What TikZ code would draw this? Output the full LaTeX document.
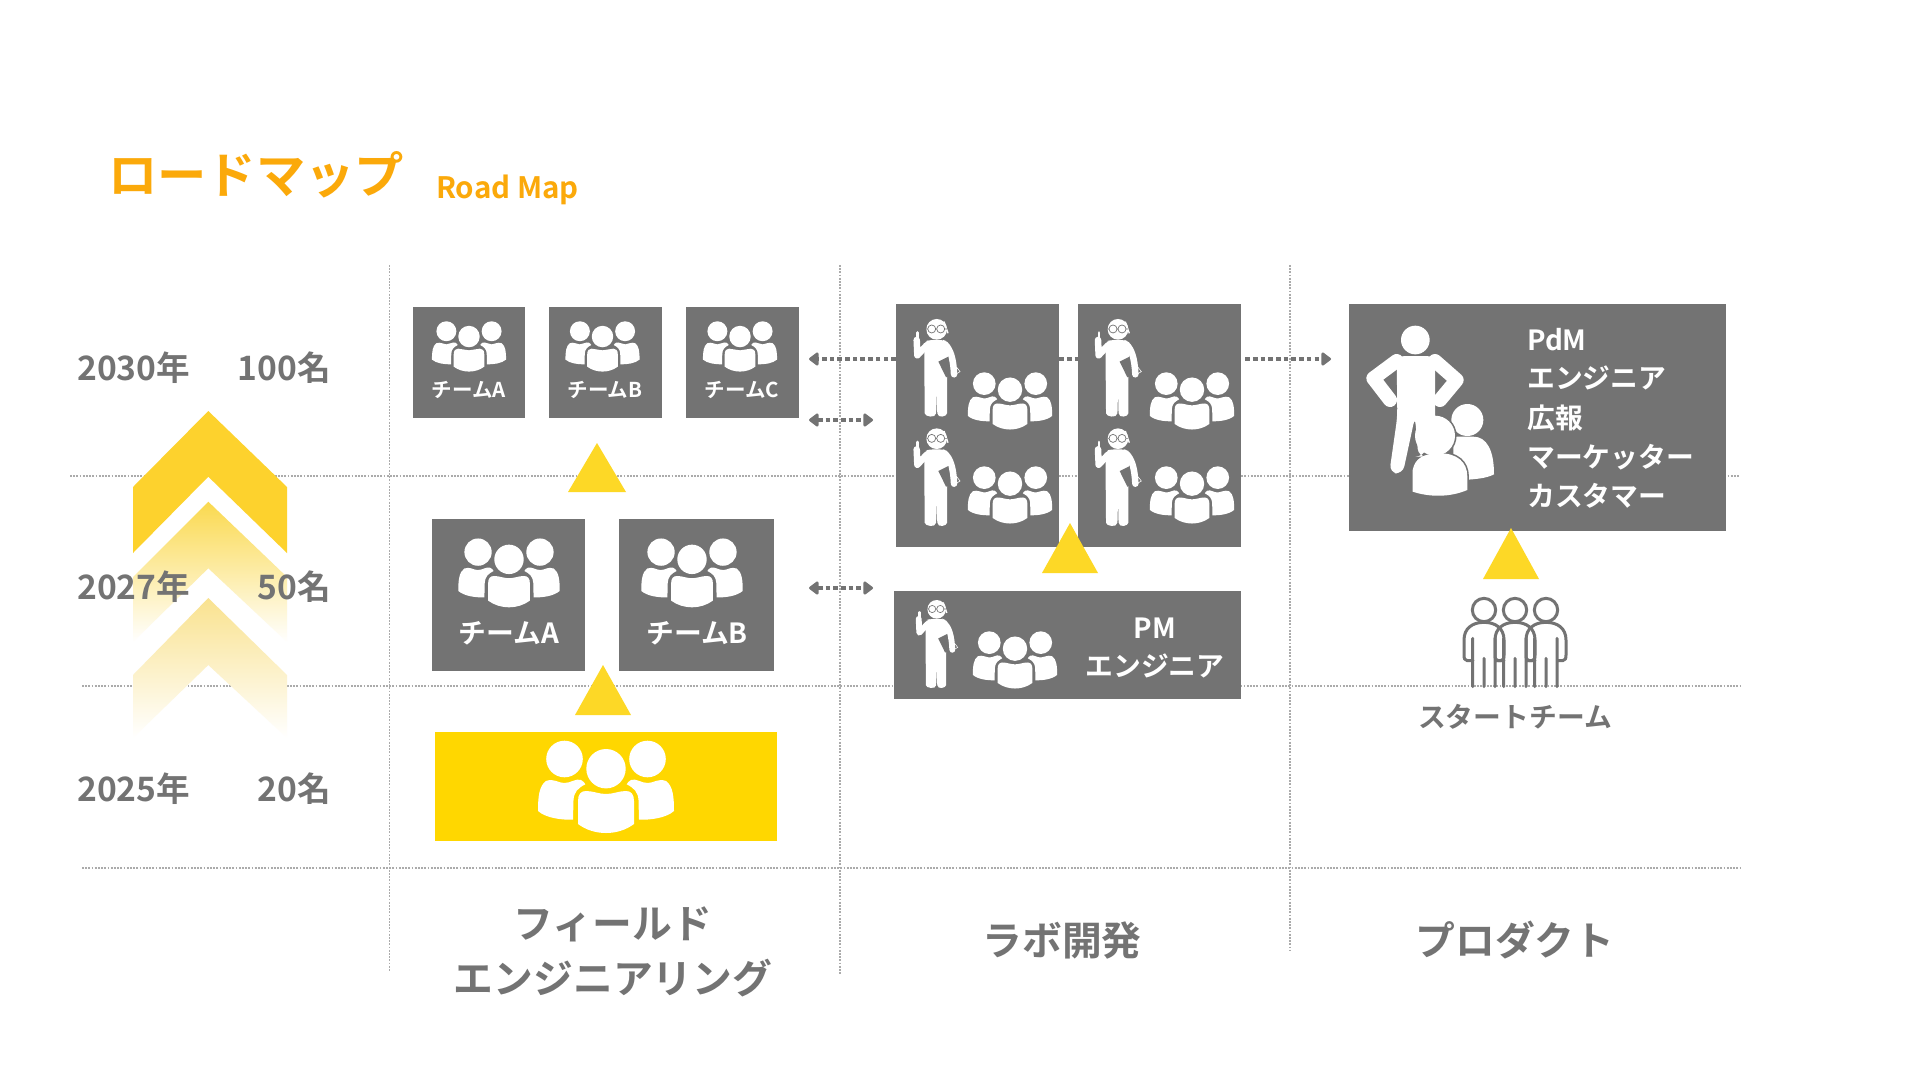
\documentclass[tikz,border=0pt]{standalone}
\usepackage{fontspec}
\setmainfont{Noto Sans CJK JP}[BoldFont={* Bold}]
\usetikzlibrary{arrows.meta}
\definecolor{gbox}{HTML}{737373}
\definecolor{gline}{HTML}{ABABAB}
\definecolor{yelbox}{HTML}{FFD700}
\definecolor{yeltri}{HTML}{FDD826}
\definecolor{chev}{HTML}{FDD22D}
\definecolor{chevb}{HTML}{FAD94F}
\definecolor{chevc}{HTML}{F9E28F}
\definecolor{orangetxt}{HTML}{FBA90A}
\tikzset{
  sz/.style={font=\fontsize{#1}{#1}\selectfont\bfseries,inner sep=0pt,text height={#1*0.88pt},text depth={#1*0.12pt}},
  wtxt/.style={sz=#1,text=white},
  gtxt/.style={sz=#1,text=gbox},
  gridline/.style={gline,line width=1.5pt,dash pattern=on 1.7pt off 1.5pt},
  boxn/.style={fill=gbox,inner sep=0pt},
  dotarrow/.style={gbox,line width=4.6pt,dash pattern=on 4.6pt off 3.1pt},
  tipL/.style={{Triangle[length=10.5pt,width=15pt,round]}-},
  tipR/.style={-{Triangle[length=10.5pt,width=15pt,round]}},
  tipB/.style={{Triangle[length=10.5pt,width=15pt,round]}-{Triangle[length=10.5pt,width=15pt,round]}},
}
\newcommand\grp[3]{%
  \begin{scope}[shift={(#1,#2)},scale=#3]
    \foreach \s in {1,-1}{
      \begin{scope}[xscale=\s]
        \fill[white] (-68,24) .. controls (-68,10) and (-67,-1) .. (-60,-6) .. controls (-52,-9) and (-48,-4) .. (-41.7,-4) .. controls (-35,-4) and (-30,-9) .. (-25,-7) .. controls (-23,-6) and (-21,-4) .. (-20.7,-2.7) .. controls (-28,1) and (-32,5) .. (-32.5,13) -- (-33,32.7) .. controls (-45,33) and (-60,31) .. (-68,24) -- cycle;
        \fill[white] (-41.5,-28) circle (18.3);
      \end{scope}
    }
    \fill[white] (0,-18.3) circle (19.7);
    \fill[white] (-28,37) -- (-28,14) .. controls (-28,7) and (-25,4) .. (-20,4) .. controls (-13,4) and (-7,7) .. (0,7) .. controls (7,7) and (13,4) .. (20,4) .. controls (25,4) and (28,7) .. (28,14) -- (28,37) .. controls (20,43) and (10,46) .. (0,46) .. controls (-10,46) and (-20,43) .. (-28,37) -- cycle;
  \end{scope}}
\newcommand\eng[3]{%
  \begin{scope}[shift={(#1,#2)},scale=#3/3]
    \fill[white,rounded corners=4pt] (-37,37) -- (-22,32) -- (20,32) -- (30,36) -- (35,60) -- (31,132) -- (31,240) .. controls (31,262) and (3,268) .. (1,240) -- (0,137) -- (-1,240) .. controls (-3,268) and (-36,262) .. (-36,240) -- (-37,130) -- cycle;
    \draw[white,line width=#3*6.5pt,line cap=round,line join=round] (25,45) .. controls (40,60) and (50,85) .. (52,135);
    \draw[white,line width=#3*6.5pt,line cap=round,line join=round] (-60,32) -- (-58,78) -- (-30,48);
    \draw[white,line width=#3*2.8pt,line cap=round] (-57,10) -- (-57,32);
    \fill[gbox] (5,97) -- (35,82) -- (38,140) -- (28,144) -- cycle;
    \draw[white,line width=#3*0.6pt] (60,114) -- (70,127) -- (58,134);
    \draw[white,line width=#3*1.3pt] (22,-23) -- (34,12);
    \fill[white] (0,0) circle (31);
    \draw[gbox,line width=#3*0.7pt] (-15,-1) circle (12) (12,-1) circle (12) (-3,-1) -- (0,-1) (-27,-1) -- (-31,-1) (24,-1) -- (31,-1);
  \end{scope}}
\newcommand\tri[4]{\fill[yeltri] (#1,#2) -- (#3,#4) -- ({2*#1-#3},#4) -- cycle;}
\begin{document}
\begin{tikzpicture}[x=1pt,y=-1pt]
\useasboundingbox (0,0) rectangle (1920,1080);
\fill[white] (0,0) rectangle (1920,1080);
% grid
\draw[gridline] (389.5,265) -- (389.5,972);
\draw[gridline] (840,265) -- (840,974);
\draw[gridline] (1290,265) -- (1290,950);
\draw[gridline] (70,476) -- (1740,476);
\draw[gridline] (82,686) -- (1740,686);
\draw[gridline] (82,868) -- (1740,868);
% chevrons
\fill[chev] (208.3,411) -- (287,487) -- (287,553) -- (208.3,476.7) -- (133,553) -- (133,487) -- cycle;
\shade[top color=chevb,bottom color=white] (208.3,501.7) -- (287,577) -- (287,642) -- (208.3,568.3) -- (133,642) -- (133,577) -- cycle;
\shade[top color=chevc,bottom color=white] (208.3,598) -- (287,675) -- (287,738) -- (208.3,665) -- (133,738) -- (133,675) -- cycle;
% title
\node[sz=49.3,text=orangetxt,anchor=west] (title) at (108,175) {ロードマップ};
\node[sz=29.5,text=orangetxt,anchor=west] (subtitle) at (436,187) {Road Map};
% years
\node[gtxt=33.6,anchor=west] (y30) at (77,368) {2030年};
\node[gtxt=33.6,anchor=east] (n30) at (331,368) {100名};
\node[gtxt=33.6,anchor=west] (y27) at (77,587) {2027年};
\node[gtxt=33.6,anchor=east] (n27) at (331,587) {50名};
\node[gtxt=33.6,anchor=west] (y25) at (77,789) {2025年};
\node[gtxt=33.6,anchor=east] (n25) at (331,789) {20名};
% boxes
\node[boxn,minimum width=112pt,minimum height=111pt] (sA) at (469,362.5) {};
\node[boxn,minimum width=113pt,minimum height=111pt] (sB) at (605.5,362.5) {};
\node[boxn,minimum width=113pt,minimum height=111pt] (sC) at (742.5,362.5) {};
\node[boxn,minimum width=153pt,minimum height=152pt] (mA) at (508.5,595) {};
\node[boxn,minimum width=155pt,minimum height=152pt] (mB) at (696.5,595) {};
\node[fill=yelbox,inner sep=0pt,minimum width=342pt,minimum height=109pt] (yel) at (606,786) {};
\node[boxn,minimum width=163pt,minimum height=243pt] (L1) at (977.5,425.5) {};
\node[boxn,minimum width=163pt,minimum height=243pt] (L2) at (1159.5,425.5) {};
\node[boxn,minimum width=347pt,minimum height=108pt] (PM) at (1067.5,645) {};
\node[boxn,minimum width=377pt,minimum height=227pt] (PD) at (1537.5,417.5) {};
% connectors
\coordinate (aL) at (809,359);
\coordinate (aR) at (1331,359);
\coordinate (bL) at (809,420);
\coordinate (bR) at (873,420);
\coordinate (cL) at (809,588);
\coordinate (cR) at (873,588);
\draw[dotarrow,tipR] (L1.west |- aL) -- (aL);
\draw[dotarrow] (L1.east |- aL) -- (L2.west |- aL);
\draw[dotarrow,tipR] ([xshift=4pt]L2.east |- aR) -- (aR);
\draw[dotarrow,tipB] (bL) -- (bR);
\draw[dotarrow,tipB] (cL) -- (cR);
% triangles
\tri{597}{443}{568}{492}
\tri{603}{665}{575}{715}
\tri{1070}{523}{1042}{573}
\tri{1511}{528}{1483}{579}
% groups
\grp{606}{787}{1}
\grp{509}{573}{0.746}
\grp{692}{573}{0.746}
\grp{469}{346.5}{0.545}
\grp{602.5}{346.5}{0.545}
\grp{740}{346.5}{0.545}
\grp{1010}{401}{0.62}
\grp{1010}{495}{0.62}
\grp{1192}{401}{0.62}
\grp{1192}{495}{0.62}
\grp{1015}{660}{0.62}
% engineers
\eng{936.7}{329.3}{1}
\eng{936.7}{438.7}{1}
\eng{1118}{329.3}{1}
\eng{1118}{438.7}{1}
\eng{936.7}{609.3}{0.9}
% product figure
\begin{scope}[shift={(1340,290)},scale=1/3]
  \fill[white] (226,150) circle (43);
  \fill[white,rounded corners=8pt] (170,198) -- (285,198) -- (285,400) -- (250,500) -- (235,500) -- (225,380) -- (188,552) -- (148,548) -- (172,380) -- cycle;
  \draw[white,line width=14pt,line cap=round,line join=round] (170,213) -- (100,265) -- (150,330);
  \draw[white,line width=14pt,line cap=round,line join=round] (285,213) -- (350,270) -- (300,330);
  \fill[white] (382,390) circle (48);
  \fill[white] (340,440) -- (400,440) .. controls (440,440) and (462,480) .. (462,553) .. controls (440,565) and (400,570) .. (340,570) -- cycle;
  \begin{scope}
    \clip (290,370) rectangle (480,630);
    \draw[gbox,line width=3.2pt] (285,437) circle (60);
    \draw[gbox,line width=3.2pt] (218,605) -- (218,540) .. controls (225,505) and (250,490) .. (300,490) .. controls (350,490) and (382,515) .. (382,560) -- (382,600) .. controls (330,622) and (270,622) .. (218,605) -- cycle;
  \end{scope}
  \fill[white] (285,437) circle (60);
  \fill[white] (218,605) -- (218,540) .. controls (225,505) and (250,490) .. (300,490) .. controls (350,490) and (382,515) .. (382,560) -- (382,600) .. controls (330,622) and (270,622) .. (218,605) -- cycle;
\end{scope}
% start team
\begin{scope}[shift={(1340,290)},scale=1/3]
  \foreach \c in {432,525,618}{
    \draw[gbox,line width=3pt] (\c,960) circle (35);
    \draw[gbox,line width=3pt,line cap=round,line join=round] (\c-34,1190) -- (\c-34,1045) (\c,1190) -- (\c,1105) (\c+33,1190) -- (\c+33,1045)
      (\c-33,1112) -- (\c-50,1112) .. controls (\c-58,1112) and (\c-60,1105) .. (\c-60,1095) -- (\c-60,1050) .. controls (\c-60,1015) and (\c-35,997) .. (\c,997) .. controls (\c+35,997) and (\c+60,1015) .. (\c+60,1050) -- (\c+60,1095) .. controls (\c+60,1105) and (\c+58,1112) .. (\c+50,1112) -- (\c+33,1112);
  }
\end{scope}
% box text
\node[wtxt=20.5] (tA1) at (469,390) {チームA};
\node[wtxt=20.5] (tB1) at (605,390) {チームB};
\node[wtxt=20.5] (tC1) at (742,390) {チームC};
\node[wtxt=27.8] (tA2) at (509,633) {チームA};
\node[wtxt=27.8] (tB2) at (697,633) {チームB};
\node[wtxt=27.8] (pm1) at (1155,627.5) {PM};
\node[wtxt=27.8] (pm2) at (1155,665.5) {エンジニア};
\node[wtxt=27.8,anchor=west] (pd1) at (1527,340) {PdM};
\node[wtxt=27.8,anchor=west] (pd2) at (1527,378) {エンジニア};
\node[wtxt=27.8,anchor=west] (pd3) at (1527,418) {広報};
\node[wtxt=27.8,anchor=west] (pd4) at (1527,456.5) {マーケッター};
\node[wtxt=27.8,anchor=west] (pd5) at (1527,495.5) {カスタマー};
\node[gtxt=27.8] (st) at (1515,717) {スタートチーム};
% columns
\node[gtxt=39.8] (c1a) at (613,923) {フィールド};
\node[gtxt=39.8] (c1b) at (613,978) {エンジニアリング};
\node[gtxt=39.8] (c2) at (1062,940) {ラボ開発};
\node[gtxt=39.8] (c3) at (1515,940) {プロダクト};
\end{tikzpicture}
\end{document}
